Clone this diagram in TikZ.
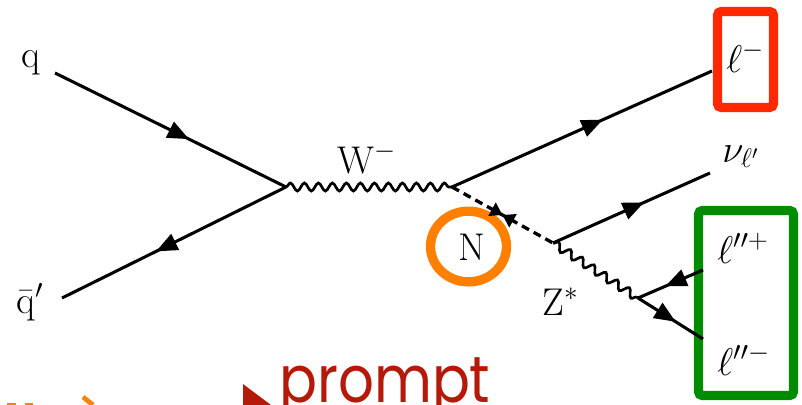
\RequirePackage{fix-cm}
\documentclass[tikz,border=0pt]{standalone}
\usepackage{fontspec}
\newfontfamily\promptfont{Poppins}
\usetikzlibrary{decorations.pathmorphing,decorations.markings,arrows.meta,shapes.geometric}
\definecolor{boxred}{RGB}{255,40,0}
\definecolor{boxgreen}{RGB}{0,140,0}
\definecolor{circorange}{RGB}{255,128,0}
\definecolor{promptred}{RGB}{180,25,10}
\begin{document}
\begin{tikzpicture}[x=0.75pt,y=-0.75pt,
  lbl/.style={inner sep=0pt, font=\fontsize{29}{34}\selectfont},
  fermion/.style={line width=2.3pt, postaction={decorate},
    decoration={markings, mark=at position 0.58 with {\arrow{Triangle[length=16pt,width=13pt]}}}},
  boson/.style={line width=2pt, decorate,
    decoration={snake, segment length=10.5pt, amplitude=3pt}},
  majorana/.style={line width=2.5pt, dash pattern=on 6pt off 4pt, postaction={decorate},
    decoration={markings, mark=at position 0.5 with {\arrow{Triangle[length=9pt,width=11pt]}\arrowreversed{Triangle[length=9pt,width=11pt]}}}},
  hlbox/.style={line width=7pt, rounded corners=3pt}
]
\useasboundingbox (0,0) rectangle (802,404);
\begin{scope}
\clip (0,0) rectangle (802,404);
% vertices and free ends
\coordinate (v1) at (286,187);
\coordinate (v2) at (452,187);
\coordinate (v3) at (553,243);
\coordinate (v4) at (638,298);
\coordinate (qend) at (55,73);
\coordinate (qbend) at (62,298);
\coordinate (lend) at (712,71);
\coordinate (nuend) at (710,173);
\coordinate (lpend) at (703,270);
\coordinate (lmend) at (703,339);

% highlight boxes
\draw[hlbox, boxred] (717.5,11.5) rectangle (773.5,107.5);
\draw[hlbox, boxgreen] (698.5,210.5) rectangle (793.5,395.5);
\node[draw=circorange, line width=7pt, ellipse, inner sep=0pt,
  minimum width=57pt, minimum height=53pt] (ncirc) at (468.5,246.5) {};

% propagators
\draw[fermion] (qend) -- (v1);
\draw[fermion] (v1) -- (qbend);
\draw[boson] (v1) -- (v2);
\draw[fermion] (v2) -- (lend);
\draw[majorana] (v2) -- (v3);
\draw[fermion] (v3) -- (nuend);
\draw[boson] (v3) -- (v4);
\draw[fermion] (lpend) -- (v4);
\draw[fermion] (v4) -- (lmend);

% labels
\node[lbl, anchor=base west] (q) at (21,67) {q};
\node[lbl, anchor=base west] (qb) at (16,313) {$\bar{\mathrm{q}}'$};
\node[lbl, anchor=base west] (w) at (337,173) {W$^{-}$};
\node[lbl, anchor=base] (n) at (471.5,260) {N};
\node[lbl, anchor=base west] (z) at (542,315) {Z$^{*}$};
\node[lbl, anchor=base west] (lm) at (726,72) {$\ell^{-}$};
\node[lbl, anchor=base west] (nu) at (722,162) {$\nu_{\ell'}$};
\node[lbl, anchor=base west] (lpp) at (717,263) {$\ell''^{+}$};
\node[lbl, anchor=base west] (lmm) at (717,375) {$\ell''^{-}$};

% bottom fragments
\node[anchor=base west, inner sep=0pt, text=promptred, xscale=0.86, transform shape,
  font=\promptfont\fontsize{49}{58}\selectfont] (prompt) at (279,402) {prompt};
\fill[promptred] (243,384) -- (275,408) -- (243,408) -- cycle;
\fill[circorange] (7,402.5) rectangle (16,406);
\fill[circorange] (25,402.5) rectangle (33,406);
\draw[circorange, line width=3.5pt] (83,397) -- (93,405);
\end{scope}
\end{tikzpicture}
\end{document}
